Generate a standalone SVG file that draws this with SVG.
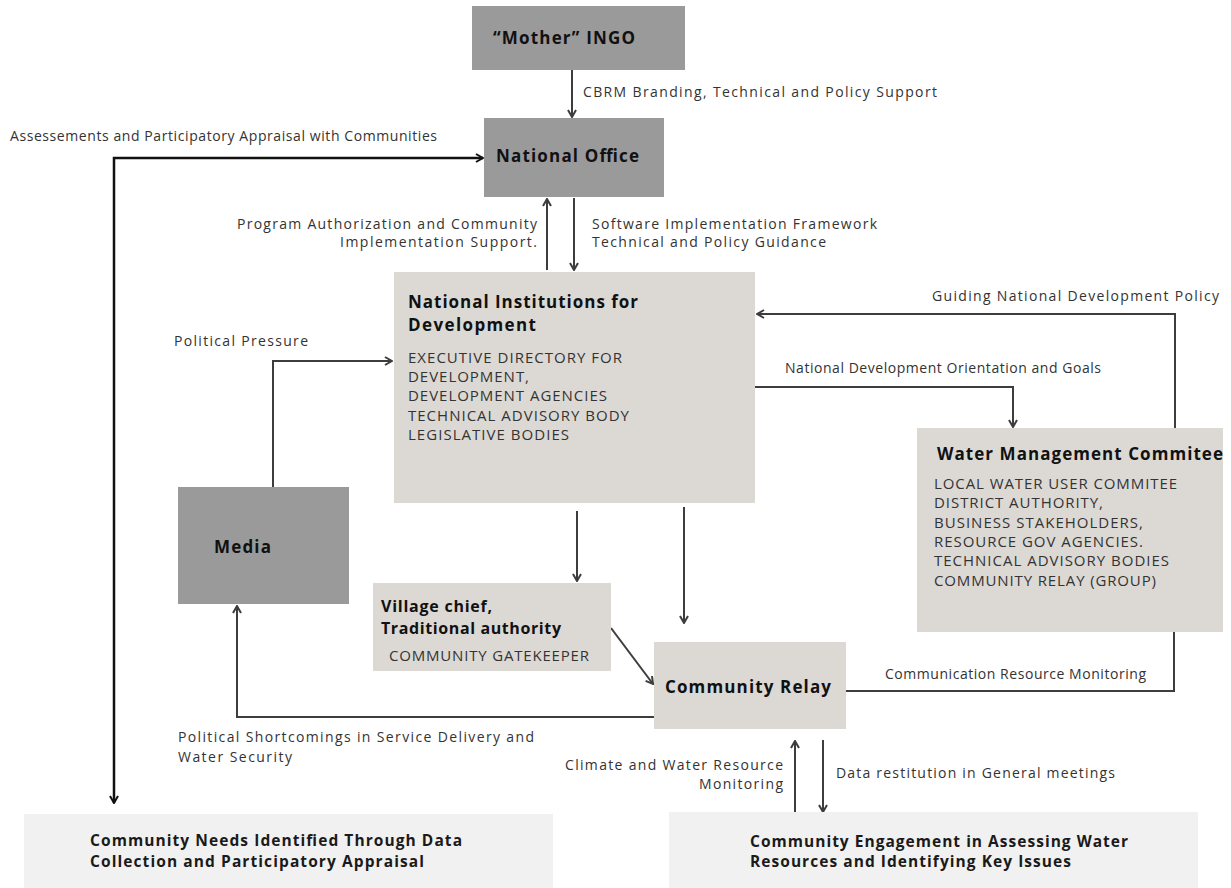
<svg xmlns="http://www.w3.org/2000/svg" width="1231" height="888" viewBox="0 0 1231 888">
<style>
.dark{fill:#9a9a9a}
.light{fill:#dcd9d5}
.pale{fill:#f1f1f1}
.t{font-family:"Open Sans","Noto Sans",sans-serif;font-weight:700;fill:#111}
.tb{font-family:"Open Sans","Noto Sans",sans-serif;font-weight:700;fill:#1a1a1a;font-size:15.5px}
.it{font-family:"Open Sans","Noto Sans",sans-serif;fill:#333;font-size:15px}
.lb{font-family:"Open Sans","Noto Sans",sans-serif;fill:#333;font-size:14px}
.c{fill:none;stroke:#3d3d3d;stroke-width:2}
.k{fill:none;stroke:#111;stroke-width:2.5}
</style>
<defs>
<marker id="ah" viewBox="0 0 10 10" refX="9" refY="5" markerWidth="10" markerHeight="10" markerUnits="userSpaceOnUse" orient="auto-start-reverse">
<path d="M2,1 L9,5 L2,9" fill="none" stroke="#3d3d3d" stroke-width="2"/>
</marker>
<marker id="ahk" viewBox="0 0 10 10" refX="9" refY="5" markerWidth="10" markerHeight="10" markerUnits="userSpaceOnUse" orient="auto-start-reverse">
<path d="M2,1 L9,5 L2,9" fill="none" stroke="#111" stroke-width="2"/>
</marker>
</defs>
<rect width="1231" height="888" fill="#fff"/>

<g id="connectors">
<path class="c" d="M572,70 V117" marker-end="url(#ah)"/>
<path class="c" d="M547,270 V199" marker-end="url(#ah)"/>
<path class="c" d="M574,198 V270" marker-end="url(#ah)"/>
<path class="k" d="M114,803 V158 H483" marker-start="url(#ahk)" marker-end="url(#ahk)"/>
<path class="c" d="M1175,428 V314 H757" marker-end="url(#ah)"/>
<path class="c" d="M755,387 H1013 V427" marker-end="url(#ah)"/>
<path class="c" d="M273,487 V361 H392" marker-end="url(#ah)"/>
<path class="c" d="M577,511 V581" marker-end="url(#ah)"/>
<path class="c" d="M684,507 V623" marker-end="url(#ah)"/>
<path class="c" d="M611,628 L653,684" marker-end="url(#ah)"/>
<path class="c" d="M654,717 H237 V606" marker-end="url(#ah)"/>
<path class="c" d="M846,691 H1174 V632"/>
<path class="c" d="M795,812 V741" marker-end="url(#ah)"/>
<path class="c" d="M823,740 V812" marker-end="url(#ah)"/>
</g>

<g id="labels">
<text class="lb" x="583" y="97" textLength="354" lengthAdjust="spacing">CBRM Branding, Technical and Policy Support</text>
<text class="lb" x="10" y="141" textLength="427" lengthAdjust="spacing">Assessements and Participatory Appraisal with Communities</text>
<text class="lb" x="537" y="229" text-anchor="end" textLength="300" lengthAdjust="spacing">Program Authorization and Community</text>
<text class="lb" x="537" y="247" text-anchor="end" textLength="197" lengthAdjust="spacing">Implementation Support.</text>
<text class="lb" x="592" y="229" textLength="285" lengthAdjust="spacing">Software Implementation Framework</text>
<text class="lb" x="592" y="247" textLength="234" lengthAdjust="spacing">Technical and Policy Guidance</text>
<text class="lb" x="1219" y="301" text-anchor="end" textLength="287" lengthAdjust="spacing">Guiding National Development Policy</text>
<text class="lb" x="785" y="373" textLength="316" lengthAdjust="spacing">National Development Orientation and Goals</text>
<text class="lb" x="174" y="346" textLength="134" lengthAdjust="spacing">Political Pressure</text>
<text class="lb" x="885" y="679" textLength="261" lengthAdjust="spacing">Communication Resource Monitoring</text>
<text class="lb" x="178" y="742" textLength="356" lengthAdjust="spacing">Political Shortcomings in Service Delivery and</text>
<text class="lb" x="178" y="762" textLength="114" lengthAdjust="spacing">Water Security</text>
<text class="lb" x="783" y="770" text-anchor="end" textLength="218" lengthAdjust="spacing">Climate and Water Resource</text>
<text class="lb" x="783" y="789" text-anchor="end" textLength="84" lengthAdjust="spacing">Monitoring</text>
<text class="lb" x="836" y="778" textLength="279" lengthAdjust="spacing">Data restitution in General meetings</text>
</g>

<g id="mother-ingo">
<rect class="dark" x="472" y="6" width="213" height="64"/>
<text class="t" x="493" y="44" font-size="17" textLength="142" lengthAdjust="spacing">“Mother” INGO</text>
</g>

<g id="national-office">
<rect class="dark" x="484" y="118" width="180" height="79"/>
<text class="t" x="496" y="162" font-size="17" textLength="143" lengthAdjust="spacing">National Office</text>
</g>

<g id="national-institutions">
<rect class="light" x="394" y="272" width="361" height="231"/>
<text class="t" x="408" y="308" font-size="17" textLength="230" lengthAdjust="spacing">National Institutions for</text>
<text class="t" x="408" y="331" font-size="17" textLength="128" lengthAdjust="spacing">Development</text>
<text class="it" x="408" y="363" textLength="214" lengthAdjust="spacing">EXECUTIVE DIRECTORY FOR</text>
<text class="it" x="408" y="382" textLength="121" lengthAdjust="spacing">DEVELOPMENT,</text>
<text class="it" x="408" y="401" textLength="199" lengthAdjust="spacing">DEVELOPMENT AGENCIES</text>
<text class="it" x="408" y="421" textLength="221" lengthAdjust="spacing">TECHNICAL ADVISORY BODY</text>
<text class="it" x="408" y="440" textLength="161" lengthAdjust="spacing">LEGISLATIVE BODIES</text>
</g>

<g id="water-management">
<rect class="light" x="917" y="428" width="306" height="204"/>
<text class="t" x="937" y="460" font-size="17" textLength="286" lengthAdjust="spacing">Water Management Commitee</text>
<text class="it" x="934" y="489" textLength="243" lengthAdjust="spacing">LOCAL WATER USER COMMITEE</text>
<text class="it" x="934" y="508" textLength="169" lengthAdjust="spacing">DISTRICT AUTHORITY,</text>
<text class="it" x="934" y="528" textLength="209" lengthAdjust="spacing">BUSINESS STAKEHOLDERS,</text>
<text class="it" x="934" y="547" textLength="209" lengthAdjust="spacing">RESOURCE GOV AGENCIES.</text>
<text class="it" x="934" y="566" textLength="235" lengthAdjust="spacing">TECHNICAL ADVISORY BODIES</text>
<text class="it" x="934" y="586" textLength="222" lengthAdjust="spacing">COMMUNITY RELAY (GROUP)</text>
</g>

<g id="media">
<rect class="dark" x="178" y="487" width="171" height="117"/>
<text class="t" x="214" y="553" font-size="17" textLength="57" lengthAdjust="spacing">Media</text>
</g>

<g id="village-chief">
<rect class="light" x="373" y="583" width="238" height="88"/>
<text class="t" x="381" y="612" font-size="16" textLength="111" lengthAdjust="spacing">Village chief,</text>
<text class="t" x="381" y="634" font-size="16" textLength="180" lengthAdjust="spacing">Traditional authority</text>
<text class="it" x="389" y="661" font-size="14" textLength="200" lengthAdjust="spacing">COMMUNITY GATEKEEPER</text>
</g>

<g id="community-relay">
<rect class="light" x="654" y="642" width="192" height="87"/>
<text class="t" x="665" y="693" font-size="17" textLength="166" lengthAdjust="spacing">Community Relay</text>
</g>

<g id="community-needs">
<rect class="pale" x="24" y="814" width="529" height="74"/>
<text class="tb" x="90" y="846" textLength="372" lengthAdjust="spacing">Community Needs Identified Through Data</text>
<text class="tb" x="90" y="867" textLength="334" lengthAdjust="spacing">Collection and Participatory Appraisal</text>
</g>

<g id="community-engagement">
<rect class="pale" x="669" y="812" width="529" height="76"/>
<text class="tb" x="750" y="847" textLength="378" lengthAdjust="spacing">Community Engagement in Assessing Water</text>
<text class="tb" x="750" y="867" textLength="321" lengthAdjust="spacing">Resources and Identifying Key Issues</text>
</g>
</svg>
